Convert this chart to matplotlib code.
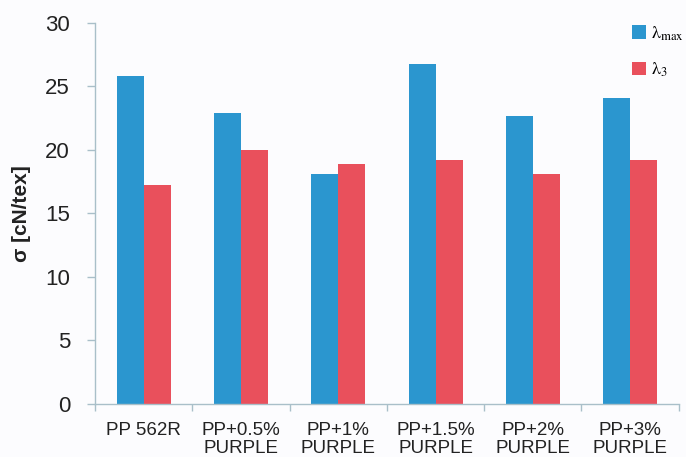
import numpy as np
import matplotlib.pyplot as plt

# wartosci wytrzymalosci dla probek
kategorie = ['PP 562R', 'PP+0.5%\nPURPLE', 'PP+1%\nPURPLE',
             'PP+1.5%\nPURPLE', 'PP+2%\nPURPLE', 'PP+3%\nPURPLE']
lambda_max = [25.8, 22.9, 18.1, 26.8, 22.7, 24.1]
lambda_3 = [17.2, 20.0, 18.9, 19.2, 18.1, 19.2]

plt.rcParams['font.family'] = ['Liberation Sans', 'DejaVu Sans']
plt.rcParams['mathtext.fontset'] = 'stix'

niebieski = '#2b96cf'
czerwony = '#e9505c'
os_kolor = '#a9bfc9'

fig = plt.figure(figsize=(6.86, 4.57), dpi=100)
fig.patch.set_facecolor('#fcfcfe')
ax = fig.add_axes([0.1385, 0.116, 0.851, 0.834])
ax.set_facecolor('#fcfcfe')

x = np.arange(len(kategorie))
w = 0.278
ax.bar(x - w / 2, lambda_max, w, color=niebieski,
       label=r'$\mathrm{\lambda}_{\mathrm{max}}$')
ax.bar(x + w / 2, lambda_3, w, color=czerwony,
       label=r'$\mathrm{\lambda}_{3}$')

ax.set_xlim(-0.5, len(kategorie) - 0.5)
ax.set_ylim(0, 30)
ax.set_yticks(range(0, 31, 5))

# etykiety w srodku grup, kreski na granicach
ax.set_xticks(x)
ax.set_xticklabels(kategorie, fontsize=13.5, color='#222222', linespacing=1.05)
ax.set_xticks(np.arange(-0.5, len(kategorie)), minor=True)
ax.tick_params(axis='x', which='major', length=0, pad=13)
ax.tick_params(axis='x', which='minor', length=5, color=os_kolor, width=1)
ax.tick_params(axis='y', length=6, color=os_kolor, width=1, pad=12,
               labelsize=16, labelcolor='#222222')

for s in ['top', 'right']:
    ax.spines[s].set_visible(False)
for s in ['left', 'bottom']:
    ax.spines[s].set_color(os_kolor)
    ax.spines[s].set_linewidth(1)

ax.set_ylabel('σ [cN/tex]', fontsize=15, fontweight='bold', color='#222222', labelpad=10)

ax.legend(loc='upper left', bbox_to_anchor=(0.905, 1.02), frameon=False,
          borderpad=0, fontsize=13, handlelength=0.75, handleheight=0.75,
          handletextpad=0.3, labelspacing=1.0)

fig.savefig('out.png', dpi=100, facecolor=fig.get_facecolor())
